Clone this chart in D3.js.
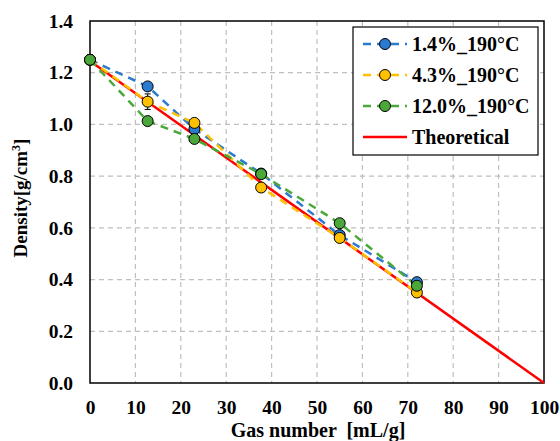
<!DOCTYPE html>
<html><head><meta charset="utf-8">
<script src="https://cdn.jsdelivr.net/npm/d3@7"></script>
<style>body{margin:0;background:#fff}svg{display:block}
svg text{font-family:"Liberation Serif","DejaVu Serif",serif !important;font-weight:bold}</style>
</head><body>
<svg id="c" width="560" height="441"></svg>
<script>
const xVals = [0, 12.7, 23, 37.7, 55, 72];
const blueVals = [1.25, 1.147, 0.982, 0.81, 0.572, 0.39];
const yellowVals = [1.25, 1.088, 1.006, 0.756, 0.561, 0.35];
const greenVals = [1.25, 1.013, 0.944, 0.808, 0.618, 0.376];
const yellowErr = [0, 0.03, 0, 0, 0, 0];
const theoX = [0, 100];
const theoY = [1.245, 0];
const seriesNames = ["1.4%_190°C", "4.3%_190°C", "12.0%_190°C", "Theoretical"];
const seriesColors = ["#2a7ad0", "#ffc000", "#4aa83a", "#ff0000"];
const xTicks = [0,10,20,30,40,50,60,70,80,90,100];
const yTicks = [0,0.2,0.4,0.6,0.8,1.0,1.2,1.4];

const svg = d3.select("#c");
const L = 90, R = 544, T = 21, B = 383;
const x = d3.scaleLinear().domain([0,100]).range([L,R]);
const y = d3.scaleLinear().domain([0,1.4]).range([B,T]);
const fs = "19.5px";

// grid
const g = svg.append("g");
g.selectAll(".gx").data(xTicks.slice(1,-1)).enter().append("line")
 .attr("x1",d=>x(d)).attr("x2",d=>x(d)).attr("y1",T).attr("y2",B)
 .attr("stroke","#bfbfbf").attr("stroke-width",1.2).attr("stroke-dasharray","5,4");
g.selectAll(".gy").data(yTicks.slice(1,-1)).enter().append("line")
 .attr("y1",d=>y(d)).attr("y2",d=>y(d)).attr("x1",L).attr("x2",R)
 .attr("stroke","#bfbfbf").attr("stroke-width",1.2).attr("stroke-dasharray","5,4");

// frame
svg.append("rect").attr("x",L).attr("y",T).attr("width",R-L).attr("height",B-T)
 .attr("fill","none").attr("stroke","#000").attr("stroke-width",1.5);

// axes
const xa = svg.append("g").attr("transform",`translate(0,${B})`)
 .call(d3.axisBottom(x).tickValues(xTicks).tickSize(0).tickPadding(17).tickFormat(d3.format("d")));
const ya = svg.append("g").attr("transform",`translate(${L},0)`)
 .call(d3.axisLeft(y).tickValues(yTicks).tickSize(0).tickPadding(17).tickFormat(d3.format(".1f")));
[xa,ya].forEach(a=>{a.select(".domain").remove();
 a.selectAll("text").attr("font-size",fs).attr("fill","#000");});

// theoretical
const theo = theoX.map((d,i)=>[d,theoY[i]]);
svg.append("path").datum(theo).attr("fill","none").attr("stroke",seriesColors[3]).attr("stroke-width",2.5)
 .attr("d",d3.line().x(d=>x(d[0])).y(d=>y(d[1])));

const series = [blueVals, yellowVals, greenVals];
const line = d3.line().x(d=>x(d[0])).y(d=>y(d[1]));
series.forEach((vals,i)=>{
  const data = xVals.map((d,j)=>[d,vals[j]]);
  svg.append("path").datum(data).attr("fill","none").attr("stroke",seriesColors[i])
   .attr("stroke-width",2.5).attr("stroke-dasharray","8,6").attr("d",line);
});
// error bar
xVals.forEach((d,j)=>{
  if(yellowErr[j]>0){
    const ex=x(d), y1=y(yellowVals[j]-yellowErr[j]), y2=y(yellowVals[j]+yellowErr[j]);
    svg.append("line").attr("x1",ex).attr("x2",ex).attr("y1",y1).attr("y2",y2).attr("stroke","#000").attr("stroke-width",1);
    [y1,y2].forEach(yy=>svg.append("line").attr("x1",ex-3).attr("x2",ex+3).attr("y1",yy).attr("y2",yy).attr("stroke","#000").attr("stroke-width",1));
  }
});
series.forEach((vals,i)=>{
  svg.append("g").selectAll("circle").data(xVals.map((d,j)=>[d,vals[j]])).enter().append("circle")
   .attr("cx",d=>x(d[0])).attr("cy",d=>y(d[1])).attr("r",5.5)
   .attr("fill",seriesColors[i]).attr("stroke","#000").attr("stroke-width",1);
});

// legend
const lg = svg.append("g");
lg.append("rect").attr("x",353).attr("y",27).attr("width",185).attr("height",128)
 .attr("fill","#fff").attr("stroke","#000").attr("stroke-width",1.2);
seriesNames.forEach((n,i)=>{
  const yy = 44 + i*31;
  if(i<3){
    lg.append("line").attr("x1",363).attr("x2",407).attr("y1",yy).attr("y2",yy)
      .attr("stroke",seriesColors[i]).attr("stroke-width",2.5).attr("stroke-dasharray","8,6");
    lg.append("circle").attr("cx",385).attr("cy",yy).attr("r",5.5).attr("fill",seriesColors[i]).attr("stroke","#000");
  } else {
    lg.append("line").attr("x1",363).attr("x2",407).attr("y1",yy).attr("y2",yy)
      .attr("stroke",seriesColors[i]).attr("stroke-width",2.5);
  }
  lg.append("text").attr("x",412).attr("y",yy+7).text(n).attr("font-size","20px");
});

// titles
svg.append("text").attr("x",318).attr("y",437).attr("text-anchor","middle")
 .attr("font-size","20px").attr("xml:space","preserve").style("white-space","pre")
 .text("Gas number  [mL/g]");
const yt = svg.append("text").attr("transform",`translate(27,198) rotate(-90)`).attr("text-anchor","middle")
 .attr("font-size","19px");
yt.append("tspan").text("Density[g/cm");
yt.append("tspan").attr("dy",-7).attr("font-size","12px").text("3");
yt.append("tspan").attr("dy",7).text("]");
</script>
</body></html>
